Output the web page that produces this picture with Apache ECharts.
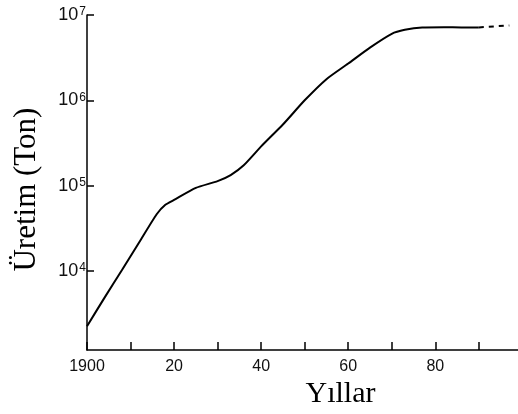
<!DOCTYPE html>
<html>
<head>
<meta charset="utf-8">
<script src="https://cdn.jsdelivr.net/npm/echarts@6/dist/echarts.min.js"></script>
<style>
  html, body { margin: 0; padding: 0; background: #fff; }
  #chart { width: 518px; height: 414px; }
</style>
</head>
<body>
<div id="chart"></div>
<script>
// production curve
const years = [1900, 1904, 1908, 1912, 1916, 1918, 1920, 1925, 1930, 1933, 1936, 1940,
  1945, 1950, 1955, 1960, 1965, 1970, 1973, 1977, 1982, 1986, 1990];
const tons = [2250, 4830, 10200, 21700, 46200, 59700, 68000, 94000, 113000, 133000, 173000, 288000,
  520000, 1000000, 1770000, 2700000, 4150000, 6020000, 6700000, 7150000, 7200000, 7150000, 7150000];
// projected part (dashed)
const projYears = [1990, 1997];
const projTons = [7150000, 7550000];

const yearLabels = { 1900: "1900", 1920: "20", 1940: "40", 1960: "60", 1980: "80" };

const chart = echarts.init(document.getElementById("chart"));

const toPairs = (xs, ys) => xs.map((x, i) => [x, ys[i]]);

chart.setOption({
  animation: false,
  grid: { left: 87, right: 0, top: 15, bottom: 60 },
  xAxis: {
    type: "value",
    min: 1900,
    max: 1999,
    interval: 10,
    name: "Yıllar",
    nameLocation: "middle",
    nameGap: 26,
    nameTextStyle: {
      fontFamily: "Liberation Serif",
      fontSize: 30,
      color: "#000",
      padding: [0, 0, 0, 76],
    },
    axisLine: { lineStyle: { color: "#000", width: 1.5 } },
    axisTick: { inside: true, length: 8, lineStyle: { color: "#000", width: 1.5 } },
    axisLabel: {
      margin: 8,
      color: "#111",
      fontFamily: "Liberation Sans",
      fontSize: 16,
      showMaxLabel: false,
      formatter: (v) => yearLabels[v] || "",
    },
    splitLine: { show: false },
  },
  yAxis: {
    type: "log",
    logBase: 10,
    min: 1180,
    max: 10000000,
    name: "Üretim (Ton)",
    nameLocation: "middle",
    nameGap: 45,
    nameTextStyle: {
      fontFamily: "Liberation Serif",
      fontSize: 31,
      color: "#000",
      padding: [0, 14, 0, 0],
    },
    axisLine: { lineStyle: { color: "#000", width: 1.5 } },
    axisTick: { inside: true, length: 7, lineStyle: { color: "#000", width: 1.5 } },
    axisLabel: {
      margin: 1,
      color: "#111",
      showMinLabel: false,
      formatter: (v) => {
        const lg = Math.log10(v);
        const e = Math.round(lg);
        if (Math.abs(lg - e) > 1e-6) return "";
        return "{b|10}{s|" + e + "}";
      },
      rich: {
        b: { fontFamily: "Liberation Sans", fontSize: 18, color: "#111", verticalAlign: "bottom" },
        s: { fontFamily: "Liberation Sans", fontSize: 12, lineHeight: 12, color: "#111",
             verticalAlign: "top", padding: [0, 0, 10, 1] },
      },
    },
    splitLine: { show: false },
  },
  series: [
    {
      type: "line",
      data: toPairs(years, tons),
      smooth: 0.2,
      showSymbol: false,
      lineStyle: { color: "#000", width: 2 },
    },
    {
      type: "line",
      data: toPairs(projYears, projTons),
      showSymbol: false,
      lineStyle: { color: "#000", width: 2, type: [5, 5] },
    },
  ],
});
</script>
</body>
</html>
